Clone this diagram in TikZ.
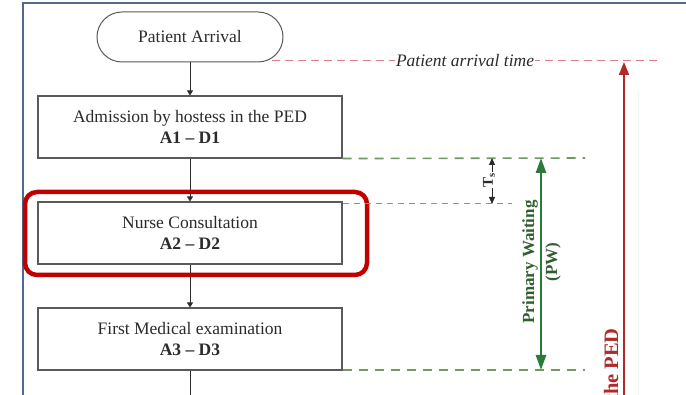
\documentclass[tikz,border=0pt]{standalone}
\usepackage{fontspec}
\setmainfont{Liberation Serif}
\usetikzlibrary{arrows.meta}
\definecolor{framec}{HTML}{52698C}
\definecolor{boxc}{HTML}{5A5A5A}
\definecolor{txtc}{HTML}{2B2B2B}
\definecolor{hired}{HTML}{C00000}
\definecolor{reddash}{HTML}{D98088}
\definecolor{redarr}{HTML}{B02A2A}
\definecolor{grdash}{HTML}{6F9A5C}
\definecolor{grarr}{HTML}{2A7A3A}
\definecolor{grtxt}{HTML}{2F5E2F}
\definecolor{graydash}{HTML}{8796A6}
\tikzset{
  procbox/.style={draw=boxc, line width=1.1pt, fill=white, minimum width=304pt, minimum height=62pt,
    align=center, text=txtc, font=\fontsize{17.5}{21}\selectfont, inner sep=0pt},
  startbox/.style={draw=boxc, line width=1pt, fill=white, rounded corners=25pt, minimum width=186pt,
    minimum height=50pt, text=txtc, font=\fontsize{17.5}{21}\selectfont},
  flow/.style={draw=txtc, line width=0.8pt, -{Triangle[length=5pt,width=6pt]}},
  plainflow/.style={draw=txtc, line width=0.8pt},
  reddashed/.style={draw=reddash, line width=1pt, dash pattern=on 8pt off 5pt},
  greendashed/.style={draw=grdash, line width=1.6pt, dash pattern=on 9pt off 7pt},
  graydashed/.style={draw=graydash, line width=1pt, dash pattern=on 6pt off 5pt},
  redarrow/.style={draw=redarr, line width=2pt, -{Triangle[length=13pt,width=10pt]}},
  greenarrow/.style={draw=grarr, line width=2.6pt, {Triangle[length=15pt,width=10pt]}-{Triangle[length=15pt,width=10pt]}},
  tsarrow/.style={draw=txtc, line width=0.9pt, {Triangle[length=7pt,width=6pt]}-{Triangle[length=7pt,width=6pt]}},
}
\begin{document}
\begin{tikzpicture}[x=1pt,y=-1pt]
\useasboundingbox (0,0) rectangle (686,395);
\clip (0,0) rectangle (686,395);
% frame
\draw[framec, line width=1.3pt] (23,400) -- (23,3) -- (690,3);
\draw[black!4, line width=0.8pt] (638,90) -- (638,400);

% flow nodes
\node[startbox] (arr) at (190,37) {Patient Arrival};
\node[procbox] (adm) at (190,127) {Admission by hostess in the PED\\\textbf{A1 -- D1}};
\node[procbox] (nur) at (190,233) {Nurse Consultation\\\textbf{A2 -- D2}};
\node[procbox] (fme) at (190,339) {First Medical examination\\\textbf{A3 -- D3}};
\coordinate (bot) at (190,400);

\draw[flow] (arr) -- (adm);
\draw[flow] (adm) -- (nur);
\draw[flow] (nur) -- (fme);
\draw[plainflow] (fme) -- (bot);

% highlight
\draw[hired, line width=4.5pt, rounded corners=12pt] (25,192) rectangle (367,275);

% patient arrival time
\coordinate (pa1) at (272,61);
\coordinate (pa2) at (662,61);
\draw[reddashed] (pa1) -- node[pos=0.495, fill=white, inner sep=1pt, text=txtc,
  font=\fontsize{17.5}{21}\selectfont\itshape] (pat) {Patient arrival time} (pa2);
\coordinate (ra1) at (624,400);
\coordinate (ra2) at (624,62);
\draw[redarrow] (ra1) -- (ra2);
\node[rotate=90, anchor=east, text=redarr, font=\fontsize{20.5}{24}\selectfont\bfseries, inner sep=0pt]
  (ped) at (611,328) {the PED};

% green lines
\coordinate (g1) at (585,158);
\coordinate (g2) at (585,370);
\draw[greendashed] (adm.south east) -- (g1);
\draw[greendashed] (fme.south east |- g2) -- (g2);
\node[rotate=90, align=center, text=grtxt, font=\fontsize{17}{23}\selectfont\bfseries, inner sep=0pt]
  (pw) at (541.5,262) {Primary Waiting\\(PW)};
\coordinate (ga1) at (541,158);
\coordinate (ga2) at (541,370);
\draw[greenarrow] (ga1) -- (ga2);

% Ts
\coordinate (gd) at (512,204);
\draw[graydashed] (nur.east |- gd) -- (gd);
\coordinate (t1) at (492,158);
\coordinate (t2) at (492,204);
\draw[tsarrow] (t1) -- (t2);
\node[rotate=90, fill=white, inner sep=0.5pt, text=txtc, font=\fontsize{15}{17}\selectfont\bfseries]
  (ts) at (489,180) {T\textsubscript{s}};
\end{tikzpicture}
\end{document}
